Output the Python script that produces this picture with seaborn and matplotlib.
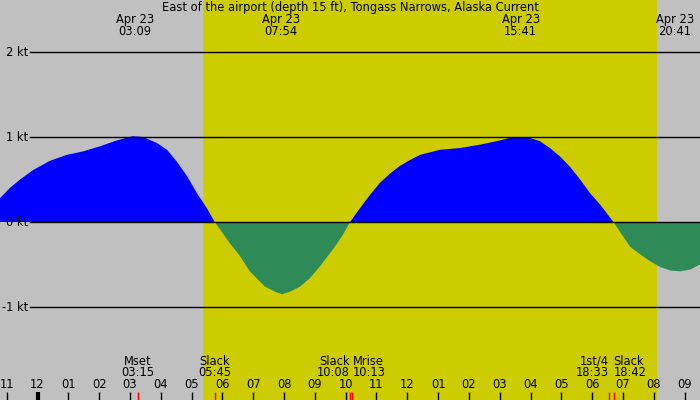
import numpy as np
import pandas as pd
import seaborn as sns
import matplotlib.pyplot as plt

# hours since Apr 23 00:00, current speed in knots
hours = [-1.22, -0.90, -0.57, -0.15, 0.40, 0.95, 1.47, 2.02, 2.57, 3.09, 3.42, 3.87, 4.20, 4.52,
         4.85, 5.17, 5.50, 5.75,
         5.93, 6.24, 6.57, 6.89, 7.38, 7.71, 7.93, 8.19, 8.52, 8.84, 9.17, 9.65, 9.91, 10.14,
         10.46, 10.79, 11.11, 11.44, 11.76, 12.09, 12.41, 12.74, 13.06, 13.71, 14.36, 15.01,
         15.43, 15.89, 16.31, 16.63, 16.96, 17.28, 17.61, 17.93, 18.27, 18.69,
         19.23, 19.56, 19.88, 20.21, 20.53, 20.86, 21.18, 21.5]
speed = [0.28, 0.40, 0.50, 0.61, 0.72, 0.79, 0.83, 0.89, 0.96, 1.01, 1.0, 0.93, 0.85, 0.71,
         0.54, 0.34, 0.16, 0.0,
         -0.09, -0.25, -0.40, -0.58, -0.76, -0.82, -0.85, -0.82, -0.76, -0.66, -0.52, -0.29, -0.15, 0.0,
         0.16, 0.32, 0.46, 0.57, 0.66, 0.73, 0.79, 0.82, 0.85, 0.87, 0.91, 0.96,
         1.0, 1.0, 0.95, 0.87, 0.77, 0.65, 0.50, 0.34, 0.20, 0.0,
         -0.29, -0.38, -0.46, -0.53, -0.57, -0.58, -0.56, -0.50]

# max flood / ebb labels on top
peak_hours = [3.15, 7.9, 15.68, 20.68]
peak_labels = ['03:09', '07:54', '15:41', '20:41']

# events along the bottom
event_hours = [3.25, 5.75, 10.13, 10.22, 18.55, 18.7]
event_names = ['Mset', 'Slack', 'Slack', 'Mrise', '1st/4', 'Slack']
event_times = ['03:15', '05:45', '10:08', '10:13', '18:33', '18:42']
event_align = ['center', 'center', 'right', 'left', 'right', 'left']

sunrise, sunset = 5.37, 20.11
kt_levels = [2, 1, 0, -1]

df = pd.DataFrame({'hour': hours, 'kt': speed})

plt.rcParams['font.family'] = ['DejaVu Sans']
fs = 8.3
fig = plt.figure(figsize=(7, 4), dpi=100, facecolor='#c0c0c0')
ax = fig.add_axes([0, 0, 1, 1])
ax.set_xlim(-1.22, 21.5)
ax.set_ylim(-2.094, 2.612)
ax.set_facecolor('#c0c0c0')
ax.axvspan(sunrise, sunset, color='#cccc00', lw=0, zorder=0)

x = np.array(hours)
y = np.array(speed)
ax.fill_between(x, y, 0, where=y >= 0, interpolate=True, color='#0000ff', lw=0, zorder=1)
ax.fill_between(x, y, 0, where=y <= 0, interpolate=True, color='#2e8b57', lw=0, zorder=1)
sns.lineplot(data=df, x='hour', y='kt', ax=ax, lw=0, legend=False)

for k in kt_levels:
    ax.axhline(k, xmin=30 / 700, xmax=1, color='black', lw=1, zorder=3)
    ax.text(28 / 700, k, f'{k} kt', transform=ax.get_yaxis_transform(), ha='right', va='center', fontsize=fs)

ax.text(0.5, 1 - 7.5 / 400, 'East of the airport (depth 15 ft), Tongass Narrows, Alaska Current',
        transform=ax.transAxes, ha='center', va='center', fontsize=fs)
tr = ax.get_xaxis_transform()
for h, lab in zip(peak_hours, peak_labels):
    ax.text(h, 1 - 20 / 400, 'Apr 23', transform=tr, ha='center', va='center', fontsize=fs)
    ax.text(h, 1 - 31.5 / 400, lab, transform=tr, ha='center', va='center', fontsize=fs)

# hour ticks
for h in range(-1, 22):
    lab = f'{(h % 12) or 12:02d}'
    ax.text(h, 1 - 385 / 400, lab, transform=tr, ha='center', va='center', fontsize=fs)
    ax.vlines(h, 0, 8 / 400, transform=tr, color='black', lw=3 if h == 0 else 1, zorder=4)

for h, n, t, a in zip(event_hours, event_names, event_times, event_align):
    ax.vlines(h, 0, 8 / 400, transform=tr, color='red', lw=1, zorder=4)
    ax.text(h, 1 - 361.5 / 400, n, transform=tr, ha=a, va='center', fontsize=fs)
    ax.text(h, 1 - 373 / 400, t, transform=tr, ha=a, va='center', fontsize=fs)

ax.set_xticks([])
ax.set_yticks([])
ax.set_xlabel('')
ax.set_ylabel('')
for s in ax.spines.values():
    s.set_visible(False)
fig.savefig('out.png', dpi=100, facecolor='#c0c0c0')
